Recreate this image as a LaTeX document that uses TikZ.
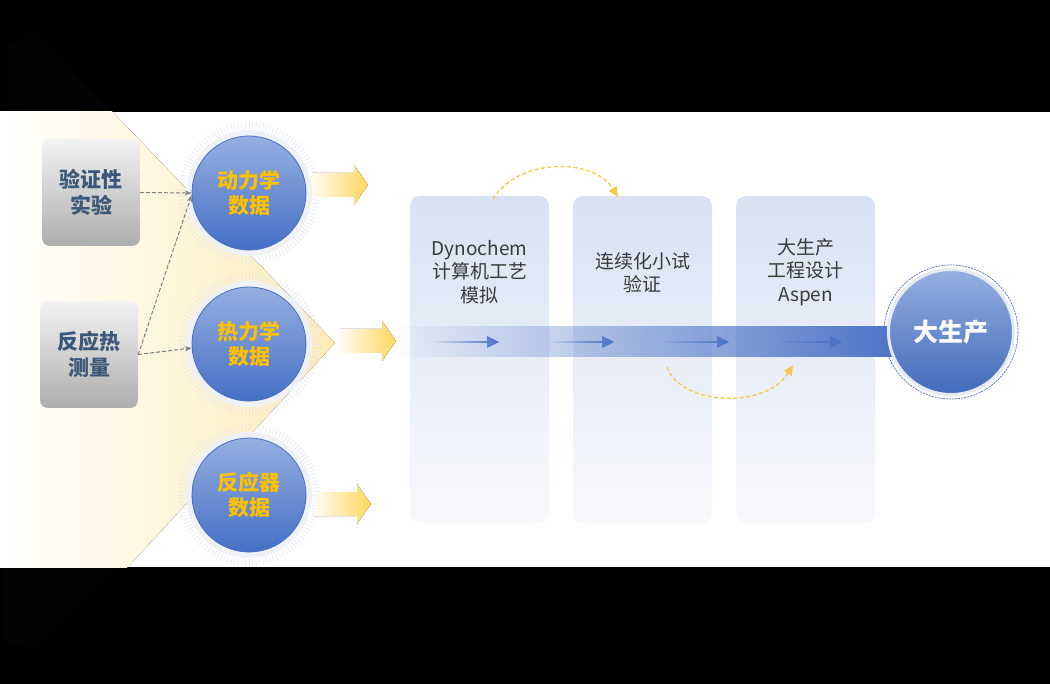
\documentclass[tikz,border=0pt]{standalone}
\usepackage{fontspec}
\newfontfamily\cjk{Noto Sans CJK SC}
\usetikzlibrary{positioning, arrows.meta, fadings}

\definecolor{boxink}{HTML}{3C5878}
\definecolor{boxtop}{HTML}{F3F3F3}
\definecolor{boxbottom}{HTML}{ADADAD}
\definecolor{circtop}{HTML}{96AFE1}
\definecolor{circbottom}{HTML}{4470C4}
\definecolor{circedge}{HTML}{4A6FC0}
\definecolor{dataink}{HTML}{FFC000}
\definecolor{halogray}{HTML}{EEF1F6}
\definecolor{haloline}{HTML}{E2E6EE}
\definecolor{paneltop}{HTML}{D9E2F3}
\definecolor{panelmid}{HTML}{F3F6FB}
\definecolor{panelbottom}{HTML}{F8F9FC}
\definecolor{panelink}{HTML}{3A3A3A}
\definecolor{bandblue}{HTML}{4A72C6}
\definecolor{arrowyellow}{HTML}{FFD65C}
\definecolor{hopyellow}{HTML}{F8C84A}
\definecolor{coneyellow}{HTML}{FDEAB0}
\definecolor{feedgray}{HTML}{7F7F7F}
\definecolor{ringgray}{HTML}{E4E9F2}
\definecolor{wedgegray}{HTML}{030303}

\tikzfading[name=bandfade, left color=transparent!100, middle color=transparent!75, right color=transparent!0]
\tikzfading[name=tailfade, left color=transparent!100, right color=transparent!0]

\begin{document}
\begin{tikzpicture}[x=1pt, y=-1pt,
	sourcebox/.style={rounded corners=8pt, minimum width=98pt, minimum height=107pt, top color=boxtop, bottom color=boxbottom, align=center, text=boxink, font=\cjk\bfseries\fontsize{21}{26}\selectfont},
	datacircle/.style={circle, minimum size=114pt, inner sep=0pt, top color=circtop, bottom color=circbottom, draw=circedge, line width=0.8pt, align=center, text=dataink, font=\cjk\bfseries\fontsize{21}{25}\selectfont},
	fatarrow/.style={left color=arrowyellow!8, right color=arrowyellow},
	panelbox/.style={rounded corners=10pt, minimum width=139pt, minimum height=327pt, top color=paneltop, middle color=panelmid, bottom color=panelbottom, draw=none},
	paneltext/.style={align=center, text=panelink, font=\cjk\fontsize{19}{23.5}\selectfont},
	prodcircle/.style={circle, minimum size=125pt, inner sep=0pt, top color=circtop, bottom color=circbottom!95!black, draw=ringgray, line width=3pt, text=white, font=\cjk\bfseries\fontsize{25}{30}\selectfont},
	feedarrow/.style={draw=feedgray, line width=1pt, dash pattern=on 4pt off 2pt, -{Stealth[length=7pt,width=5pt]}},
	hoparrow/.style={draw=hopyellow, line width=1.3pt, dash pattern=on 4pt off 2.5pt, -{Triangle[length=10pt,width=9pt]}},
	halotick/.style={draw=haloline, line width=0.5pt}
	]
	\useasboundingbox (0,0) rectangle (1050,684);
	\fill[black] (0,0) rectangle (1050,684);
	\fill[wedgegray] (7,47) -- (33,30) -- (112,111) -- (7,111) -- cycle;
	\fill[wedgegray] (5,568) -- (117,568) -- (33,650) -- (5,640) -- cycle;
	\fill[white] (0,112) rectangle (1050,567);

	\begin{scope}
		\clip (0,112) rectangle (1050,567);
		\fill[left color=white, middle color=coneyellow!10, right color=coneyellow!90] (0,-5) -- (335,343) -- (0,705) -- cycle;
	\end{scope}

	\node[panelbox] (dyno) at (479.5,359.5) {};
	\node[panelbox] (conti) at (642.5,359.5) {};
	\node[panelbox] (aspen) at (805.5,359.5) {};
	\node[paneltext] (dynotext) at ([yshift=-76pt]dyno.north) {Dynochem\\计算机工艺\\模拟};
	\node[paneltext] (contitext) at ([yshift=-77pt]conti.north) {连续化小试\\验证};
	\node[paneltext] (aspentext) at ([yshift=-76pt]aspen.north) {大生产\\工程设计\\Aspen};

	\coordinate (kinc) at (249,193);
	\coordinate (thermoc) at (249,344);
	\coordinate (reactc) at (249,495);
	\foreach \c in {kinc, thermoc, reactc} {
		\fill[halogray] (\c) circle (63);
		\begin{scope}[shift={(\c)}]
			\foreach \a in {0,3,...,357}
				\draw[halotick] (\a:64) -- (\a:71);
		\end{scope}
	}

	\foreach \x/\y in {312/185, 340/341, 315/504}
		\fill[fatarrow] (\x,\y-12) -- ++(42,0) -- ++(0,-8) -- ++(14,20) -- ++(-14,20) -- ++(0,-8) -- ++(-42,0) -- cycle;

	\node[datacircle] (kin) at (kinc) {动力学\\数据};
	\node[datacircle] (thermo) at (thermoc) {热力学\\数据};
	\node[datacircle] (react) at (reactc) {反应器\\数据};

	\node[sourcebox] (verify) at (91,192.5) {验证性\\实验};
	\node[sourcebox] (heat) at (89,354.5) {反应热\\测量};

	\draw[feedarrow] (verify.east) -- (kin.west);
	\draw[feedarrow] (heat.east) -- (kin.182);
	\draw[feedarrow] (heat.east) -- (thermo.184);

	\fill[bandblue, path fading=bandfade] (395,326) rectangle (905,357);
	\foreach \s in {432,547,662,775}
		\fill[bandblue, path fading=tailfade] (\s,341.2) -- ++(55,0) -- ++(0,-5.2) -- ++(12,6) -- ++(-12,6) -- ++(0,-5.2) -- ++(-55,0) -- cycle;

	\node[prodcircle] (prod) at (951,332) {大生产};
	\draw[bandblue, line width=0.7pt, dash pattern=on 2pt off 1pt] (prod.center) circle (67);

	\coordinate (hopa) at (493,199);
	\coordinate (hopb) at (618,197);
	\coordinate (hopc) at (667,367);
	\coordinate (hopd) at (793,365);
	\draw[hoparrow] (hopa) .. controls +(25,-41) and +(-25,-40) .. (hopb);
	\draw[hoparrow] (hopc) .. controls +(13,38) and +(-28,45) .. (hopd);
\end{tikzpicture}
\end{document}
